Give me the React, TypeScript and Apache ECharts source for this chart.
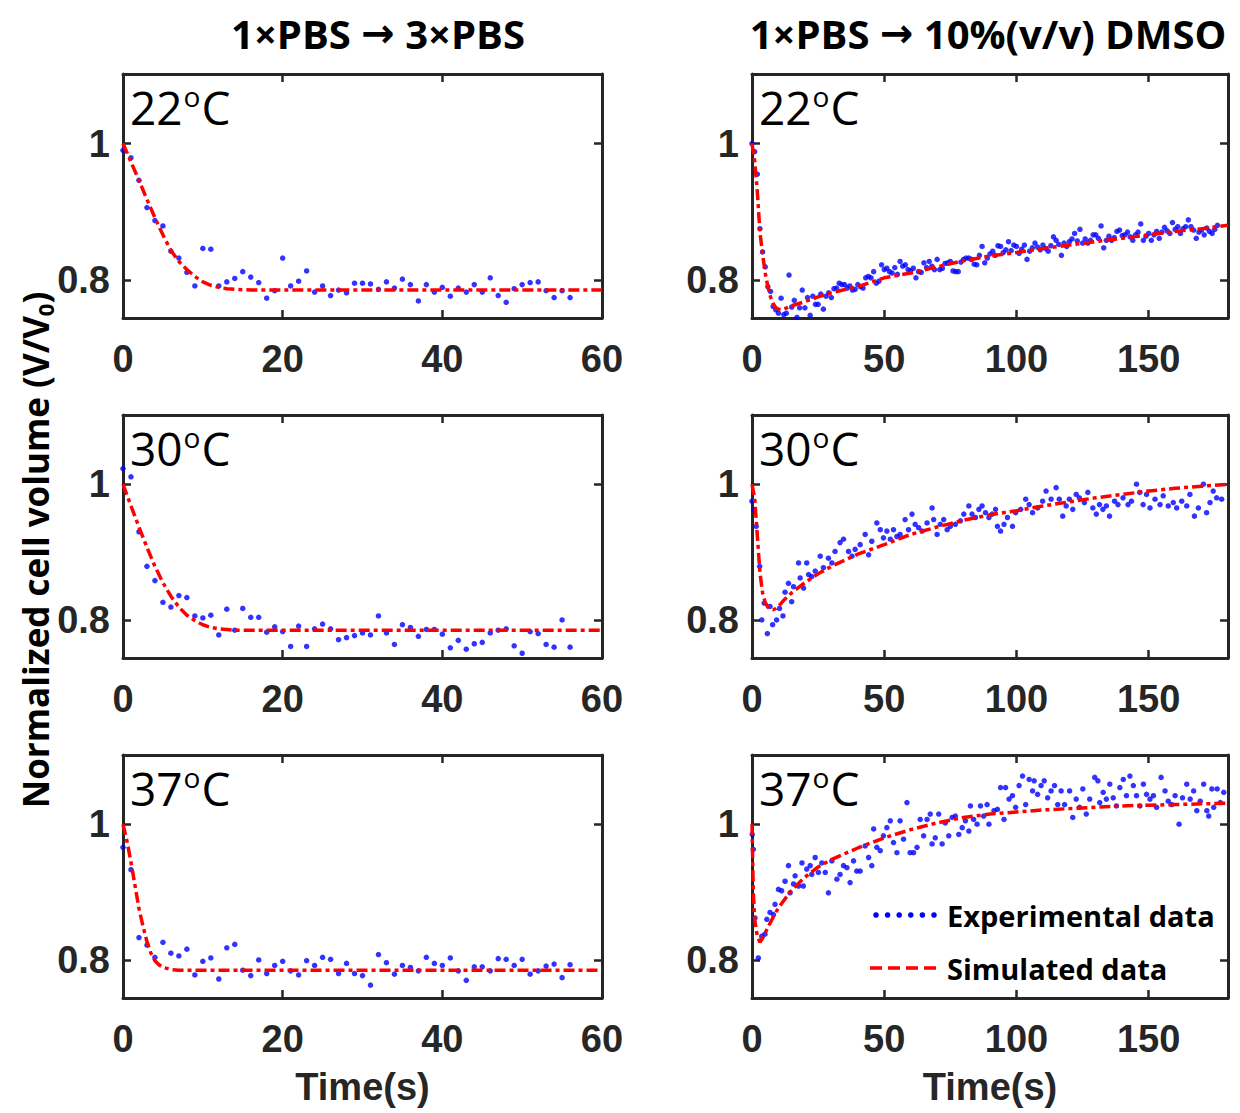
import React, { useEffect, useRef } from "react";
import * as echarts from "echarts";

// ---------------- DATA ----------------
const colTitlesA = ["1×PBS", "1×PBS"];
const colTitlesB = ["3×PBS", "10%(v/v) DMSO"];
const arrow = "→";
const tempLabels = ["22", "30", "37"];
const leftXTicks = [0, 20, 40, 60];
const rightXTicks = [0, 50, 100, 150];
const yTicks = [0.8, 1];
const xAxisName = "Time(s)";
const yAxisName = "Normalized cell volume (V/V";
const legendNames = ["Experimental data", "Simulated data"];

// Left column experimental data, one sample per second (t = 0..56 s)
const l1Exp = [0.990,0.979,0.946,0.906,0.887,0.879,0.842,0.832,0.811,0.791,0.846,0.845,0.791,0.797,0.802,0.812,0.804,0.796,0.773,0.784,0.832,0.791,0.798,0.813,0.782,0.791,0.777,0.785,0.781,0.795,0.795,0.794,0.786,0.797,0.788,0.801,0.793,0.769,0.793,0.782,0.789,0.776,0.788,0.782,0.793,0.782,0.803,0.777,0.767,0.787,0.793,0.796,0.797,0.784,0.774,0.784,0.774];
const l2Exp = [1.023,1.011,0.930,0.879,0.858,0.826,0.819,0.836,0.833,0.806,0.803,0.807,0.778,0.816,0.785,0.817,0.804,0.804,0.782,0.790,0.783,0.761,0.791,0.761,0.787,0.794,0.787,0.771,0.774,0.777,0.781,0.778,0.806,0.781,0.764,0.793,0.789,0.776,0.786,0.786,0.779,0.759,0.770,0.757,0.765,0.767,0.781,0.785,0.787,0.762,0.751,0.783,0.780,0.764,0.760,0.800,0.760];
const l3Exp = [0.966,0.933,0.833,0.822,0.804,0.826,0.810,0.806,0.816,0.778,0.798,0.803,0.772,0.818,0.823,0.785,0.777,0.800,0.780,0.792,0.798,0.784,0.778,0.799,0.792,0.804,0.801,0.780,0.795,0.780,0.777,0.763,0.808,0.796,0.779,0.792,0.789,0.784,0.804,0.795,0.792,0.803,0.784,0.770,0.790,0.790,0.784,0.802,0.801,0.792,0.801,0.779,0.784,0.791,0.794,0.774,0.793];

// Left column simulated curves
const l1SimT = [0,1,2,3,4,5,6,7,8,9,10,11,12,13,14,16,60];
const l1SimV = [1.0,0.973,0.946,0.918,0.891,0.866,0.843,0.827,0.815,0.805,0.797,0.792,0.789,0.787,0.786,0.785,0.785];
const l2SimT = [0,1,2,3,4,5,6,7,8,9,10,11,12,13,14,60];
const l2SimV = [1.0,0.968,0.937,0.907,0.879,0.855,0.835,0.819,0.807,0.799,0.793,0.789,0.787,0.786,0.785,0.785];
const l3SimT = [0,0.5,1,1.5,2,2.5,3,3.5,4,4.5,5,6,7,60];
const l3SimV = [1.0,0.975,0.944,0.910,0.876,0.850,0.827,0.810,0.799,0.793,0.789,0.786,0.785,0.785];

// Right column, 22 °C experimental (t = 0..176 s, one per second)
const r1Exp = [1.000,0.988,0.955,0.875,0.841,0.819,0.790,0.783,0.761,0.756,
0.751,0.773,0.749,0.751,0.807,0.760,0.770,0.745,0.759,0.785,
0.759,0.774,0.748,0.776,0.764,0.764,0.779,0.757,0.776,0.781,
0.774,0.787,0.788,0.795,0.793,0.793,0.788,0.791,0.785,0.786,
0.793,0.790,0.788,0.803,0.805,0.803,0.812,0.795,0.798,0.822,
0.815,0.817,0.812,0.810,0.818,0.808,0.827,0.820,0.822,0.815,
0.813,0.817,0.803,0.812,0.811,0.825,0.818,0.827,0.820,0.815,
0.830,0.815,0.817,0.824,0.825,0.827,0.813,0.812,0.812,0.826,
0.830,0.832,0.832,0.830,0.823,0.822,0.836,0.849,0.825,0.832,
0.838,0.842,0.836,0.850,0.849,0.840,0.844,0.856,0.843,0.851,
0.849,0.839,0.845,0.851,0.830,0.842,0.847,0.854,0.848,0.844,
0.851,0.846,0.842,0.850,0.863,0.858,0.852,0.836,0.854,0.849,
0.856,0.860,0.868,0.857,0.874,0.854,0.860,0.854,0.858,0.866,
0.866,0.861,0.879,0.847,0.858,0.864,0.858,0.862,0.871,0.873,
0.865,0.866,0.870,0.863,0.858,0.866,0.870,0.882,0.858,0.864,
0.868,0.858,0.866,0.871,0.861,0.870,0.877,0.872,0.868,0.884,
0.874,0.878,0.868,0.875,0.878,0.888,0.878,0.873,0.861,0.870,
0.873,0.866,0.876,0.871,0.868,0.874,0.880];
const r1SimT = [0,1,2,3,4,5,6,7,8,9,10,11,12,15,20,25,30,40,50,60,70,80,90,100,110,120,130,140,150,160,170,180];
const r1SimV = [1.0,0.975,0.930,0.870,0.838,0.810,0.790,0.775,0.765,0.759,0.757,0.756,0.757,0.762,0.768,0.775,0.781,0.790,0.803,0.810,0.819,0.828,0.835,0.840,0.846,0.851,0.856,0.861,0.866,0.871,0.875,0.880];

// Right column, 30 °C experimental
const r2ExpT = [0,0.6,1.6,2.9,3.7,4.6,5.8,6.8,7.8,9.3,10.4,11.7,12.5,13.8,15,15.7,17.6,18.2,19.5,20.7,21.4,22.6,23.9,25.8,27,28.9,30.2,31.4,33.3,34.6,36.5,37.8,39,40.9,42.8,44.1,45.3,47.2,48.5,49.7,51,52.3,53.5,54.8,56,57.9,59.2,60.5,61.7,63,64.3,66.2,68.1,68.7,70,71.2,72.5,73.8,75,76.9,78.8,80.1,82,83.2,84.5,85.8,87,88.3,89.6,90.8,92.1,92.8,94,95.3,96.6,98.5,99.7,101.6,103.5,104.8,106.1,108,109.9,111.2,113.1,115,116.2,117.5,118.8,120,121.3,122.6,123.8,125.7,127,128.9,130.2,131.4,132.7,134,135.2,137.1,138.4,140.3,142.2,143.5,145.4,146.6,147.9,149.2,150.5,152.4,154.3,155.5,157.4,159.3,160.6,162.5,164.4,165.6,167.3,168.8,170.7,171.9,173.2,174.4,175.7,177.6];
const r2ExpV = [0.975,0.963,0.938,0.879,0.800,0.825,0.780,0.820,0.793,0.800,0.817,0.806,0.841,0.854,0.827,0.849,0.884,0.862,0.847,0.884,0.867,0.864,0.872,0.894,0.877,0.891,0.884,0.901,0.914,0.919,0.901,0.894,0.904,0.911,0.926,0.896,0.916,0.943,0.933,0.921,0.931,0.919,0.933,0.923,0.926,0.948,0.933,0.956,0.941,0.936,0.931,0.943,0.965,0.948,0.926,0.941,0.948,0.933,0.938,0.941,0.946,0.956,0.968,0.956,0.951,0.963,0.968,0.958,0.951,0.956,0.963,0.938,0.931,0.941,0.951,0.938,0.958,0.963,0.978,0.970,0.958,0.965,0.975,0.990,0.978,0.995,0.978,0.953,0.968,0.978,0.963,0.985,0.980,0.973,0.988,0.965,0.956,0.970,0.963,0.968,0.953,0.975,0.970,0.980,0.970,0.975,1.000,0.988,0.970,0.985,0.965,0.978,0.970,0.983,0.968,0.973,0.965,0.975,0.968,0.985,0.953,0.965,1.000,0.958,0.973,0.990,0.980,0.978];
const r2SimT = [0,1,2,3,4,5,6,7,8,9,10,12,15,20,25,30,40,50,60,70,80,90,100,110,120,130,140,150,160,170,180];
const r2SimV = [1.0,0.980,0.925,0.870,0.840,0.826,0.819,0.816,0.815,0.817,0.820,0.829,0.840,0.855,0.868,0.879,0.897,0.911,0.926,0.937,0.947,0.955,0.961,0.968,0.974,0.980,0.985,0.990,0.994,0.997,1.0];

// Right column, 37 °C experimental
const r3ExpT = [0.1,0.5,1.1,2.4,3.7,4.9,5.6,6.8,8.1,8.7,10,11.2,12.5,13.8,14.4,15.7,16.3,17.6,18.9,19.4,20.7,22,22.6,23.9,25.1,26.4,27.7,28.9,30.2,32.1,33.3,34.6,35.9,37.1,38.4,39.6,40.9,42.8,44.1,45.3,46,47.2,48.5,49.7,51,52.3,53.5,54.8,56,57.3,58.6,59.8,61.1,62.4,63.6,64.9,66.2,67.4,68.1,69.3,70.6,71.9,73.1,74.4,75.7,76.9,78.2,79.5,80.7,82,82.6,83.8,85.1,86.4,87.6,88.9,89.6,91.5,92.8,94,95.3,95.9,97.2,98.5,99.7,101,102.3,103.5,104.8,106.1,106.7,108,109.3,110.5,111.8,113.1,114.4,115.6,116.9,118.2,120.1,121.3,122.6,123.9,125.1,126.4,127.7,129.6,130.8,131.5,132.8,134,135.3,136.6,137.8,139.1,140.4,141.6,142.9,144.2,145.4,146.7,148,149.2,150.5,151.8,153,154.7,156.2,157.4,158.7,160,161.5,162.8,164.4,165.7,167,168.2,169.5,170.8,172,172.7,173.9,174.6,175.9,177.1,178.4];
const r3ExpV = [0.985,0.963,0.862,0.803,0.835,0.838,0.860,0.870,0.867,0.882,0.904,0.902,0.916,0.939,0.899,0.912,0.924,0.909,0.943,0.909,0.934,0.939,0.926,0.951,0.929,0.943,0.929,0.899,0.946,0.919,0.926,0.939,0.936,0.914,0.946,0.931,0.931,0.968,0.951,0.939,0.993,0.966,0.961,0.983,0.995,1.005,0.973,0.958,1.005,0.978,1.032,0.958,0.958,0.966,1.007,0.983,1.007,1.015,0.971,0.980,1.015,0.971,1.002,0.983,1.010,1.012,0.985,0.995,1.005,0.990,1.027,1.007,1.000,1.027,1.012,1.029,1.000,1.020,1.022,1.054,1.007,1.054,1.037,1.042,1.025,1.057,1.071,1.029,1.066,1.049,1.064,1.044,1.057,1.064,1.039,1.049,1.057,1.029,1.049,1.029,1.049,1.010,1.037,1.025,1.052,1.015,1.037,1.069,1.064,1.032,1.047,1.037,1.059,1.039,1.027,1.054,1.066,1.042,1.071,1.057,1.042,1.027,1.059,1.044,1.037,1.042,1.025,1.069,1.049,1.034,1.029,1.042,1.000,1.039,1.059,1.037,1.049,1.020,1.034,1.059,1.020,1.012,1.052,1.025,1.052,1.032,1.047];
const r3SimT = [0,0.5,1,2,3,4,6,8,10,15,20,25,30,40,50,60,70,80,90,100,110,120,130,140,150,160,170,180];
const r3SimV = [1.0,0.900,0.860,0.835,0.826,0.832,0.848,0.863,0.877,0.903,0.922,0.937,0.948,0.965,0.980,0.992,1.002,1.010,1.015,1.018,1.021,1.023,1.025,1.027,1.028,1.029,1.030,1.031];

// ---------------- LAYOUT / STYLE ----------------
const colLeft = [123, 752];
const colWidth = [479, 476];
const rowTop = [74, 415, 755];
const rowHeight = [244, 243, 243];
const titleCenter = [378, 988];
const yMin = 0.744;
const yMax = 1.102;
const axisColor = "#262626";
const FONT_A = "'Liberation Sans', Arial, sans-serif";
const FONT_C = "'Open Sans', 'Noto Sans', sans-serif";
const BLUE = "#0000ff";
const RED = "#ff0000";

const pairs = (t: number[], v: number[]) => v.map((y, i) => [t[i], y]);
const indexed = (v: number[]) => v.map((y, i) => [i, y]);

function buildOption() {
  const expData = [
    [indexed(l1Exp), indexed(r1Exp)],
    [indexed(l2Exp), pairs(r2ExpT, r2ExpV)],
    [indexed(l3Exp), pairs(r3ExpT, r3ExpV)],
  ];
  const simData = [
    [pairs(l1SimT, l1SimV), pairs(r1SimT, r1SimV)],
    [pairs(l2SimT, l2SimV), pairs(r2SimT, r2SimV)],
    [pairs(l3SimT, l3SimV), pairs(r3SimT, r3SimV)],
  ];
  const grid: any[] = [];
  const xAxis: any[] = [];
  const yAxis: any[] = [];
  const series: any[] = [];
  const graphic: any[] = [];

  const lineStyle = { color: axisColor, width: 3 };
  const tickStyle = { color: axisColor, width: 2.5 };
  const labelStyle = { fontFamily: FONT_A, fontWeight: "bold", fontSize: 38, color: axisColor };

  for (let row = 0; row < 3; row++) {
    for (let col = 0; col < 2; col++) {
      const p = row * 2 + col;
      grid.push({
        left: colLeft[col], top: rowTop[row], width: colWidth[col], height: rowHeight[row],
        containLabel: false, outerBoundsMode: "none",
      });
      const ticks = col === 0 ? leftXTicks : rightXTicks;
      const xMax = col === 0 ? 60 : 180;
      xAxis.push({
        gridIndex: p, type: "value", min: 0, max: xMax, position: "bottom",
        axisLine: { show: true, onZero: false, lineStyle },
        axisTick: { show: true, inside: true, length: 8, lineStyle: tickStyle, customValues: ticks },
        axisLabel: { ...labelStyle, margin: 22, customValues: ticks },
        splitLine: { show: false },
        name: row === 2 ? xAxisName : "",
        nameLocation: "middle", nameGap: 70,
        nameTextStyle: { fontFamily: FONT_A, fontWeight: "bold", fontSize: 38, color: axisColor },
      });
      xAxis.push({
        gridIndex: p, type: "value", min: 0, max: xMax, position: "top",
        axisLine: { show: true, onZero: false, lineStyle },
        axisTick: { show: true, inside: true, length: 8, lineStyle: tickStyle, customValues: ticks },
        axisLabel: { show: false },
        splitLine: { show: false },
      });
      yAxis.push({
        gridIndex: p, type: "value", min: yMin, max: yMax, position: "left",
        axisLine: { show: true, onZero: false, lineStyle },
        axisTick: { show: true, inside: true, length: 8, lineStyle: tickStyle, customValues: yTicks },
        axisLabel: { ...labelStyle, margin: 13, customValues: yTicks },
        splitLine: { show: false },
      });
      yAxis.push({
        gridIndex: p, type: "value", min: yMin, max: yMax, position: "right",
        axisLine: { show: true, onZero: false, lineStyle },
        axisTick: { show: true, inside: true, length: 8, lineStyle: tickStyle, customValues: yTicks },
        axisLabel: { show: false },
        splitLine: { show: false },
      });
      series.push({
        name: legendNames[0], type: "scatter", xAxisIndex: 2 * p, yAxisIndex: 2 * p,
        data: expData[row][col], symbol: "circle", symbolSize: 5.5,
        itemStyle: { color: BLUE }, clip: true, z: 3,
      });
      series.push({
        name: legendNames[1], type: "line", xAxisIndex: 2 * p, yAxisIndex: 2 * p,
        data: simData[row][col], symbol: "none", smooth: false,
        lineStyle: { color: RED, width: 3.5, type: [11, 4, 4, 4] }, clip: true, z: 4,
      });
      // temperature label
      graphic.push({
        type: "text", left: colLeft[col] + 7, top: rowTop[row] + 8, z: 10,
        style: {
          text: `{n|${tempLabels[row]}}{s|o}{n|C}`,
          rich: {
            n: { fontFamily: FONT_C, fontSize: 46, fill: "#000", lineHeight: 50 },
            s: { fontFamily: FONT_C, fontSize: 28, fill: "#000", verticalAlign: "top", lineHeight: 50, padding: [0, 1, 14, 1] },
          },
        },
      });
    }
  }

  // column titles
  for (let c = 0; c < 2; c++) {
    graphic.push({
      type: "text", x: titleCenter[c], y: 33, z: 10,
      style: {
        text: `{t|${colTitlesA[c]} }{a|${arrow}}{t| ${colTitlesB[c]}}`,
        align: "center", verticalAlign: "middle",
        rich: {
          t: { fontFamily: FONT_C, fontWeight: "bold", fontSize: 40, fill: "#000", lineHeight: 46 },
          a: { fontFamily: "'DejaVu Sans', sans-serif", fontWeight: "bold", fontSize: 40, fill: "#000", lineHeight: 46 },
        },
      },
    });
  }
  // y-axis title
  graphic.push({
    type: "text", x: 35, y: 550, rotation: Math.PI / 2, z: 10,
    style: {
      text: `{b|${yAxisName}}{sub|0}{b|)}`,
      align: "center", verticalAlign: "middle",
      rich: {
        b: { fontFamily: FONT_C, fontWeight: "bold", fontSize: 35, fill: "#000", lineHeight: 42 },
        sub: { fontFamily: FONT_C, fontWeight: "bold", fontSize: 22, fill: "#000", verticalAlign: "bottom", lineHeight: 42 },
      },
    },
  });
  // legend
  const legendDots = [0, 1, 2, 3, 4, 5].map((i) => ({
    type: "circle", shape: { cx: 876 + i * 11.6, cy: 915, r: 2.8 }, style: { fill: BLUE }, z: 10,
  }));
  graphic.push(...legendDots);
  graphic.push({
    type: "line", shape: { x1: 870, y1: 968, x2: 936, y2: 968 }, z: 10,
    style: { stroke: RED, lineWidth: 3.5, lineDash: [12, 6] },
  });
  graphic.push({
    type: "text", x: 947, y: 915, z: 10,
    style: { text: legendNames[0], fontFamily: FONT_C, fontWeight: "bold", fontSize: 29, fill: "#000", verticalAlign: "middle" },
  });
  graphic.push({
    type: "text", x: 947, y: 968, z: 10,
    style: { text: legendNames[1], fontFamily: FONT_C, fontWeight: "bold", fontSize: 29, fill: "#000", verticalAlign: "middle" },
  });

  return {
    animation: false,
    backgroundColor: "#ffffff",
    grid, xAxis, yAxis, series, graphic,
  };
}

export default function App() {
  const ref = useRef<HTMLDivElement>(null);
  useEffect(() => {
    if (!ref.current) return;
    const chart = echarts.init(ref.current, undefined, { renderer: "svg" });
    chart.setOption(buildOption() as any);
    return () => chart.dispose();
  }, []);
  return (
    <div
      ref={ref}
      style={{ position: "fixed", left: 0, top: 0, width: 1240, height: 1113, background: "#fff" }}
    />
  );
}
